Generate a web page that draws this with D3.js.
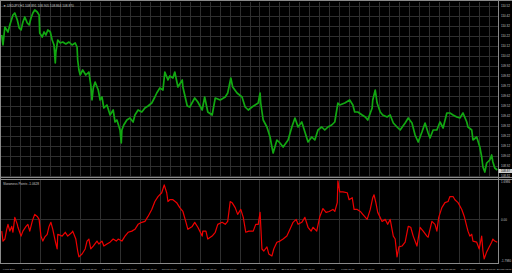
<!DOCTYPE html>
<html lang="en">
<head>
  <meta charset="UTF-8">
  <title>USDJPY,H1 with Skewness Points</title>
  <script src="https://d3js.org/d3.v7.min.js"></script>
  <style>
    body { margin: 0; background: #000; }
    svg { display: block; font-family: "Liberation Sans", Arial, sans-serif; }
    .grid { stroke: #2e2e2e; stroke-width: 1; shape-rendering: crispEdges; }
    .frame { stroke: #8a8a8a; stroke-width: 1; shape-rendering: crispEdges; }
    .lbl { fill: #c4c4c4; }
  </style>
</head>
<body>
<svg width="512" height="273"></svg>
<script>
  // price line (bar index, close)
  const priceBars = [2,4,7,12,15,20,23,27,30,33,36,39,43,46,49,52,55,59,62,63,67,70,73,76,80,83,86,88,89,92,96,100,105,110,115,120,123,124,126,128,132,137,142,145,147,149,152,157,160,163,166,171,176,181,184,187,192,194,195,198,203,208,213,216,221,227,232,237,243,248,251,256,261,264,269,272,277,280,285,292,293,300,304,312,317,324,328,333,340,345,353,361,365,370,373,380,388,393,398,404,409,414,417,418,422,428,433,436,438,444,449,454,462,468,473,478,484,489,494,500,505,510,516,521,526,532,537,542,545,553,561,566,569,574,581,586,590,597,598,602,605,610,614,621,626,631,637,642,650,655,661,666,671,677,682,687,690,695,701,706,711,717,722,727,733,738,743,749,751,757,759,765,770,773,775,778,781,786,789,791,794,798];
  const priceVals = [110.23,110.13,110.31,110.26,110.33,110.43,110.45,110.38,110.30,110.28,110.36,110.41,110.35,110.33,110.40,110.45,110.48,110.46,110.43,110.25,110.21,110.26,110.23,110.28,110.26,110.18,110.13,109.95,110.06,110.18,110.15,110.16,110.14,110.16,110.13,110.15,110.11,109.98,109.88,109.83,109.88,109.83,109.86,109.73,109.58,109.70,109.76,109.68,109.58,109.61,109.50,109.53,109.43,109.48,109.36,109.38,109.28,109.15,109.28,109.33,109.38,109.40,109.36,109.43,109.48,109.46,109.50,109.52,109.55,109.61,109.65,109.70,109.68,109.86,109.78,109.82,109.80,109.86,109.71,109.78,109.71,109.52,109.51,109.60,109.56,109.48,109.61,109.46,109.43,109.60,109.58,109.61,109.65,109.80,109.71,109.65,109.61,109.51,109.48,109.51,109.53,109.55,109.65,109.55,109.38,109.31,109.21,109.11,109.05,109.18,109.15,109.11,109.18,109.31,109.40,109.31,109.36,109.26,109.16,109.21,109.18,109.28,109.31,109.28,109.31,109.33,109.36,109.55,109.53,109.55,109.58,109.53,109.46,109.46,109.43,109.41,109.38,109.50,109.58,109.68,109.55,109.46,109.43,109.41,109.43,109.35,109.31,109.28,109.35,109.40,109.35,109.23,109.16,109.26,109.35,109.25,109.20,109.28,109.28,109.36,109.30,109.45,109.45,109.43,109.41,109.40,109.45,109.36,109.31,109.28,109.18,109.21,109.11,109.01,108.91,108.86,108.95,108.98,109.03,108.96,108.90,108.88];
  const lastPrice = 108.87;

  // Skewness Points sub-window (bar index, value)
  const oscBars = [2,4,7,10,12,15,18,20,23,27,28,33,36,41,44,47,51,52,55,59,62,65,68,71,75,78,81,84,88,91,92,99,104,108,115,116,121,124,126,131,136,139,142,145,149,155,158,163,166,171,176,181,186,189,195,200,205,211,216,221,227,232,237,243,248,253,259,263,267,269,272,277,283,288,293,298,301,308,312,317,324,325,330,333,340,345,349,356,361,365,369,372,377,381,386,390,394,399,406,410,414,417,420,423,428,431,436,439,444,449,454,460,465,470,475,478,484,489,494,499,502,508,513,518,523,528,534,537,541,542,545,550,557,560,565,568,573,578,582,589,594,598,600,603,606,613,618,622,626,631,634,637,640,645,650,655,659,663,669,674,679,685,687,693,698,701,704,709,714,719,722,727,730,735,741,745,749,751,754,757,759,765,769,773,775,777,781,785,789,791,794,798];
  const oscVals = [-0.52,-0.96,-0.87,-0.44,-0.22,-0.52,-0.31,-0.57,0.09,-0.22,-0.35,-0.74,-0.52,-0.31,-0.22,-0.52,-0.09,0.00,0.22,0.13,0.00,-0.74,-0.96,-0.79,-0.66,-0.31,-0.13,-0.44,-0.96,-1.31,-0.66,-0.74,-0.57,-0.74,-0.57,-0.52,-0.87,-1.40,-1.66,-1.53,-1.31,-0.96,-0.87,-1.31,-1.18,-0.96,-1.09,-0.96,-1.18,-1.09,-1.01,-0.87,-0.96,-0.87,-0.96,-0.74,-0.57,-0.52,-0.44,-0.22,-0.13,-0.09,0.13,0.44,0.79,1.01,1.18,1.53,1.18,0.79,0.87,0.87,0.74,0.52,0.35,-0.13,-0.44,-0.31,-0.13,-0.35,-0.74,-0.52,-0.52,-0.87,-0.74,-0.57,-0.22,-0.13,-0.22,-0.09,0.79,0.74,0.52,0.22,0.44,0.09,-0.57,-0.52,-0.52,-0.22,-0.22,0.31,-1.31,-1.40,-1.22,-1.53,-1.62,-1.31,-1.01,-0.96,-0.87,-0.74,-0.44,-0.13,0.00,-0.22,-0.13,0.09,-0.35,-0.52,-0.35,-0.52,0.13,0.48,0.31,0.35,0.44,0.35,0.74,1.70,1.22,1.22,1.18,0.87,0.96,0.44,0.44,0.35,0.22,0.00,0.44,0.96,1.09,0.74,0.31,-0.09,0.00,-0.22,0.00,-0.74,-0.87,-1.66,-1.22,-1.18,-1.01,-0.31,-0.35,-0.74,-1.18,-0.35,-0.52,-0.74,-0.79,-0.09,-0.22,-0.52,0.09,0.52,0.74,0.79,1.01,1.01,0.87,0.74,0.44,0.13,-0.31,-0.52,-0.74,-0.66,-0.96,-1.01,-1.31,-0.74,-1.40,-1.75,-1.44,-1.22,-1.01,-0.87,-0.96,-1.01];

  const priceTicks = [110.52,110.42,110.32,110.22,110.12,110.02,109.92,109.82,109.72,109.62,109.52,109.42,109.32,109.22,109.12,109.02,108.92,108.82];
  const oscTicks = [1.6986, 0, -1.7980];
  const dateLabels = ["4 Feb 2019","5 Feb 08:00","6 Feb 16:00","8 Feb 00:00","11 Feb 08:00","12 Feb 16:00","14 Feb 00:00","15 Feb 08:00","18 Feb 16:00","20 Feb 00:00","21 Feb 08:00","22 Feb 16:00","26 Feb 00:00","27 Feb 08:00","28 Feb 16:00","4 Mar 00:00","5 Mar 08:00","6 Mar 16:00","8 Mar 00:00","11 Mar 08:00","12 Mar 16:00","14 Mar 00:00","15 Mar 08:00","18 Mar 16:00","20 Mar 00:00","21 Mar 08:00"];
  const titleText = "\u25BC USDJPY,H1  108.891 108.905 108.864 108.870";
  const oscTitle = "Skewness Points -1.0628";

  const width = 512, height = 273;
  const plotRight = 498.5;
  const mainTop = 2, mainBottom = 177;
  const subTop = 180, subBottom = 263;

  const svg = d3.select("svg");
  svg.append("rect").attr("width", width).attr("height", height).attr("fill", "#000");

  const x = d3.scaleLinear().domain([0, 800]).range([0.5, 498.5]);
  const y = d3.scaleLinear().domain([108.82, 110.52]).range([176, 6]);
  const y2 = d3.scaleLinear().domain([-1.7980, 1.6986]).range([260, 181]);

  // clip paths
  const defs = svg.append("defs");
  defs.append("clipPath").attr("id", "clipMain").append("rect")
    .attr("x", 1).attr("y", mainTop).attr("width", plotRight - 1).attr("height", mainBottom - mainTop);
  defs.append("clipPath").attr("id", "clipSub").append("rect")
    .attr("x", 1).attr("y", subTop).attr("width", plotRight - 1).attr("height", subBottom - subTop);

  // grid - main window
  const gMain = svg.append("g");
  gMain.selectAll(".hgrid").data(priceTicks).enter().append("line")
    .attr("class", "grid")
    .attr("x1", 1).attr("x2", plotRight)
    .attr("y1", d => Math.round(y(d)) + 0.5).attr("y2", d => Math.round(y(d)) + 0.5);
  gMain.selectAll(".vgrid").data(d3.range(16, 800, 16)).enter().append("line")
    .attr("class", "grid")
    .attr("x1", d => Math.round(x(d)) + 0.5).attr("x2", d => Math.round(x(d)) + 0.5)
    .attr("y1", mainTop).attr("y2", mainBottom);

  // grid - sub window
  const gSub = svg.append("g");
  gSub.append("line").attr("class", "grid")
    .attr("x1", 1).attr("x2", plotRight)
    .attr("y1", Math.round(y2(0)) + 0.5).attr("y2", Math.round(y2(0)) + 0.5);
  gSub.selectAll(".vgrid").data(d3.range(32, 800, 32)).enter().append("line")
    .attr("class", "grid")
    .attr("x1", d => Math.round(x(d)) + 0.5).attr("x2", d => Math.round(x(d)) + 0.5)
    .attr("y1", subTop).attr("y2", subBottom);

  // price line
  const priceLine = d3.line().x((d, i) => x(priceBars[i])).y(d => y(d));
  svg.append("path")
    .datum(priceVals)
    .attr("clip-path", "url(#clipMain)")
    .attr("fill", "none")
    .attr("stroke", "#12a812")
    .attr("stroke-width", 1.7)
    .attr("stroke-linejoin", "round")
    .attr("d", priceLine);

  // oscillator line
  const oscLine = d3.line().x((d, i) => x(oscBars[i])).y(d => y2(d));
  svg.append("path")
    .datum(oscVals)
    .attr("clip-path", "url(#clipSub)")
    .attr("fill", "none")
    .attr("stroke", "#ee0000")
    .attr("stroke-width", 1.2)
    .attr("stroke-linejoin", "round")
    .attr("d", oscLine);

  // frames
  svg.append("line").attr("class", "frame").attr("x1", 0).attr("x2", width).attr("y1", 0.5).attr("y2", 0.5);
  svg.append("line").attr("class", "frame").attr("x1", 0.5).attr("x2", 0.5).attr("y1", 0).attr("y2", subBottom);
  svg.append("line").attr("class", "frame").attr("x1", plotRight).attr("x2", plotRight).attr("y1", 0).attr("y2", subBottom);
  svg.append("line").attr("class", "frame").attr("stroke", "#b8b8b8").attr("x1", 0).attr("x2", width).attr("y1", 177.5).attr("y2", 177.5);
  svg.append("line").attr("class", "frame").attr("x1", 0).attr("x2", width).attr("y1", 179.5).attr("y2", 179.5);
  svg.append("line").attr("class", "frame").attr("x1", 0).attr("x2", plotRight).attr("y1", subBottom + 0.5).attr("y2", subBottom + 0.5);

  // right axis labels
  svg.append("g").selectAll("text").data(priceTicks).enter().append("text")
    .attr("class", "lbl")
    .attr("x", 501).attr("y", d => y(d) + 1)
    .attr("font-size", 3)
    .text(d => d.toFixed(2));

  // last price box
  svg.append("rect")
    .attr("x", plotRight).attr("y", y(lastPrice) - 2).attr("width", 13.5).attr("height", 4)
    .attr("fill", "#cfcfcf");
  svg.append("text")
    .attr("x", 501).attr("y", y(lastPrice) + 1)
    .attr("font-size", 3).attr("fill", "#000")
    .text(lastPrice.toFixed(2));

  svg.append("g").selectAll("text").data(oscTicks).enter().append("text")
    .attr("class", "lbl")
    .attr("x", 501).attr("y", d => y2(d) + 1.5)
    .attr("font-size", 3)
    .text(d => d === 0 ? "0.00" : d.toFixed(4));

  // date labels (last one kept inside the picture)
  svg.append("g").selectAll("text").data(dateLabels).enter().append("text")
    .attr("class", "lbl")
    .attr("x", (d, i) => i === dateLabels.length - 1 ? width - 0.5 : x(i * 32) + 2)
    .attr("text-anchor", (d, i) => i === dateLabels.length - 1 ? "end" : "start")
    .attr("y", 269.5)
    .attr("font-size", 2.5)
    .text(d => d);

  // window titles
  svg.append("text").attr("class", "lbl")
    .attr("x", 3).attr("y", 7).attr("font-size", 3.2)
    .text(titleText);
  svg.append("text").attr("class", "lbl")
    .attr("x", 3).attr("y", 185).attr("font-size", 3.2)
    .text(oscTitle);
</script>
</body>
</html>
